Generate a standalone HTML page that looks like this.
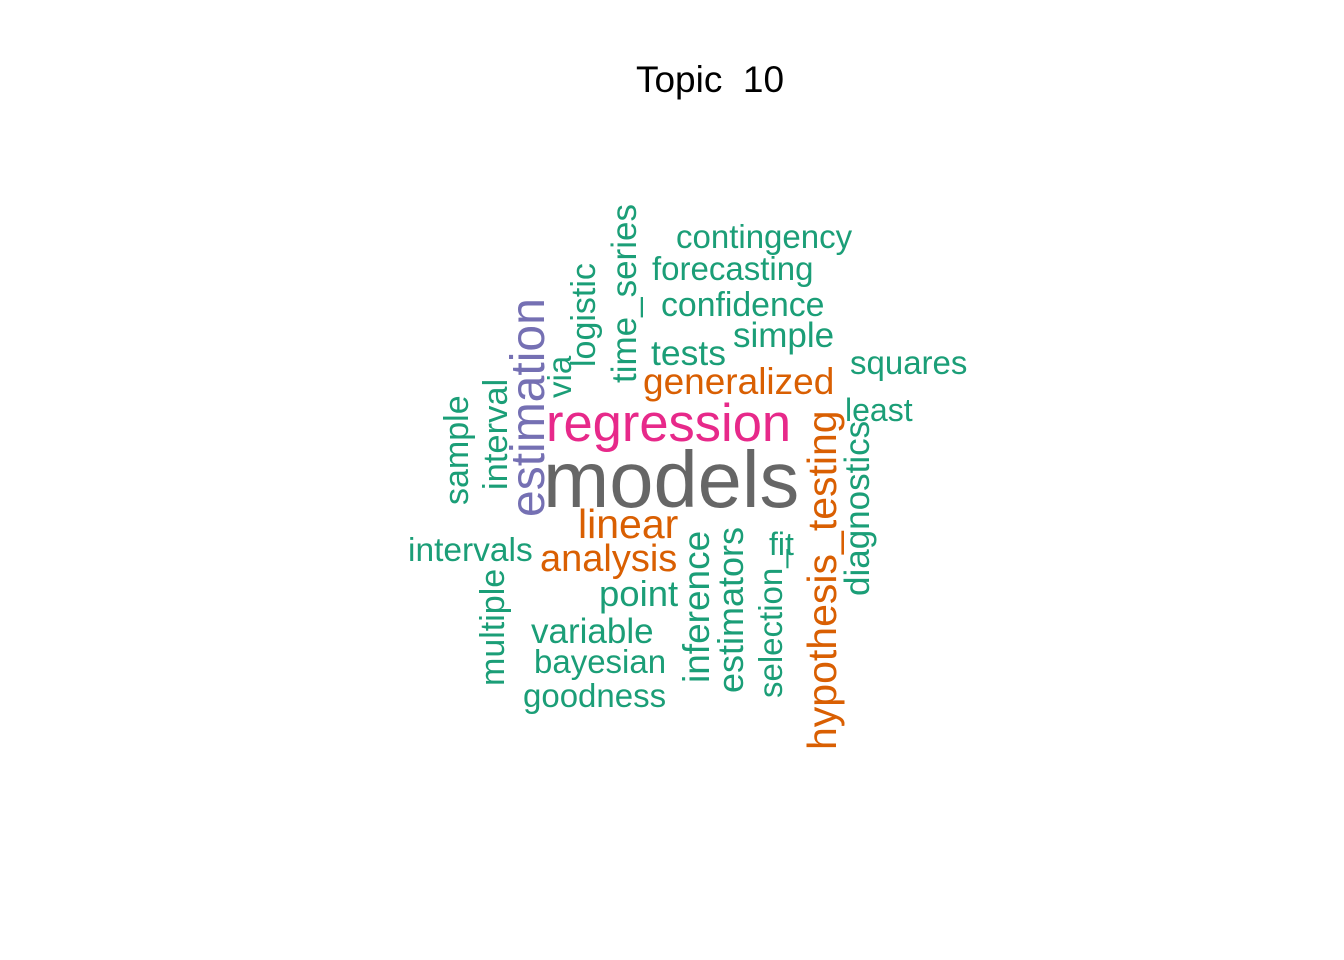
<!DOCTYPE html>
<html><head><meta charset="utf-8"><style>
html,body{margin:0;padding:0;background:#fff;}
svg{display:block;}
text{font-family:"Liberation Sans",Arial,sans-serif;}
</style></head><body>
<svg width="1344" height="960" viewBox="0 0 1344 960">
<text x="710" y="92" text-anchor="middle" font-size="37" fill="#000" style="white-space:pre">Topic&#160; 10</text>
<g id="words"></g>
</svg>
<script>
const words = ["models","regression","generalized","linear","analysis","contingency","forecasting","confidence","simple","tests","squares","least","intervals","point","variable","bayesian","goodness","fit","estimation","sample","interval","via","logistic","time_series","multiple","inference","estimators","selection_","hypothesis_testing","diagnostics"];
const colors = ["#666666","#E7298A","#D95F02","#D95F02","#D95F02","#1B9E77","#1B9E77","#1B9E77","#1B9E77","#1B9E77","#1B9E77","#1B9E77","#1B9E77","#1B9E77","#1B9E77","#1B9E77","#1B9E77","#1B9E77","#7570B3","#1B9E77","#1B9E77","#1B9E77","#1B9E77","#1B9E77","#1B9E77","#1B9E77","#1B9E77","#1B9E77","#D95F02","#1B9E77"];
const sizes = [79.5,52.5,37,41,38,33,33,33.8,35,35.5,33,32,33.5,36.5,35,33,33,32,48,34,34.5,33,34,35,34,37,36,33,41,35];
const rotated = [0,0,0,0,0,0,0,0,0,0,0,0,0,0,0,0,0,0,1,1,1,1,1,1,1,1,1,1,1,1];
const px = [543,546,643,578,540,676,652,661,733,651,850,845,408,599,531,534,523,769,544,468,507,571,595,636,504,709,743,782,836,869];
const py = [507,441,394,538,571,248,280,316,347,365,374,421,561,606,643,673,707,555,517,505,490,398,367,383,686,683,693,698,750,596];
const g = document.getElementById('words');
for (let i = 0; i < words.length; i++) {
  const t = document.createElementNS('http://www.w3.org/2000/svg','text');
  t.textContent = words[i];
  t.setAttribute('font-size', sizes[i]);
  t.setAttribute('fill', colors[i]);
  if (rotated[i]) {
    t.setAttribute('transform', 'translate(' + px[i] + ',' + py[i] + ') rotate(-90)');
  } else {
    t.setAttribute('x', px[i]);
    t.setAttribute('y', py[i]);
  }
  
  
  g.appendChild(t);
}
</script>
</body></html>
